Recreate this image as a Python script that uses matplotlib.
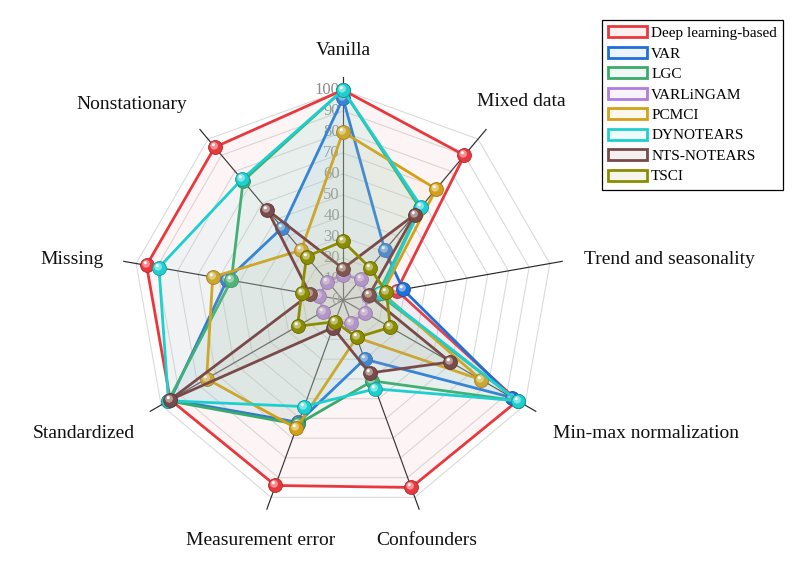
import numpy as np
import matplotlib
matplotlib.use('Agg')
import matplotlib.pyplot as plt
from matplotlib.markers import MarkerStyle
from matplotlib.transforms import Affine2D
from matplotlib.patches import Patch
import matplotlib.colors as mcolors

plt.rcParams['font.family'] = ['Liberation Serif', 'DejaVu Serif']

categories = ['Vanilla', 'Mixed data', 'Trend and seasonality', 'Min-max normalization',
              'Confounders', 'Measurement error', 'Standardized', 'Missing', 'Nonstationary']
methods = ['Deep learning-based', 'VAR', 'LGC', 'VARLiNGAM', 'PCMCI',
           'DYNOTEARS', 'NTS-NOTEARS', 'TSCI']

deep_learning = [100, 90, 26, 96, 95, 94, 95, 95, 95]
var = [96, 31, 29, 93, 30, 62, 95, 56, 45]
lgc = [100, 57, 17, 96, 41, 63, 96, 54, 74]
varlingam = [12, 13, 12, 12, 11.5, 12, 11, 11.5, 11.5]
pcmci = [80, 69, 19, 76, 19, 65, 75, 63, 31]
dynotears = [100, 58, 18, 96, 45, 54, 96, 89, 75]
nts_notears = [15, 53, 12.5, 59, 37, 14, 95, 16, 56]
tsci = [28, 20, 21, 26, 19, 11, 25, 20, 27]

series = [deep_learning, var, lgc, varlingam, pcmci, dynotears, nts_notears, tsci]
colors = ['#e8383d', '#1f6fd9', '#3aaa6a', '#b07ce0', '#d4a017',
          '#1ecfcf', '#7a4a4a', '#8c8c00']
ticks = [0, 10, 20, 30, 40, 50, 60, 70, 80, 90, 100]

px = 2.1  # pixels per unit
fig = plt.figure(figsize=(7.93, 5.63), dpi=100)
ax = fig.add_axes([0, 0, 1, 1])
ax.set_xlim(-343 / px, 450 / px)
ax.set_ylim(-263 / px, 300 / px)
ax.set_aspect('equal')
ax.axis('off')

n = len(categories)
theta = np.deg2rad(90 - 40 * np.arange(n))
ct, st = np.cos(theta), np.sin(theta)

# polygon grid
for t in ticks[1:]:
    xs = np.append(t * ct, t * ct[0])
    ys = np.append(t * st, t * st[0])
    ax.plot(xs, ys, color='#dadada', lw=0.8, zorder=1)
# spokes
for c, s in zip(ct, st):
    ax.plot([0, 106 * c], [0, 106 * s], color='#2a2a2a', lw=0.85, zorder=1.2)

# tick labels
for t in ticks:
    ax.text(-1.5, t, str(t), ha='right', va='center', fontsize=12,
            color='#8a8a8a', zorder=1.5)

# category labels
label_pos = [(0, 119, 'center'), (63.8, 94.5, 'left'), (114.8, 19.5, 'left'),
             (100, -63.8, 'left'), (40, -114.3, 'center'), (-39, -114.3, 'center'),
             (-99, -63.8, 'right'), (-113.8, 19.5, 'right'), (-74.3, 93, 'right')]
for cat, (lx, ly, ha) in zip(categories, label_pos):
    ax.text(lx, ly, cat, ha=ha, va='center', fontsize=14, color='#111111')

hl1 = MarkerStyle('o', transform=Affine2D().scale(0.55).translate(-0.1, 0.12))
hl2 = MarkerStyle('o', transform=Affine2D().scale(0.22).translate(-0.16, 0.2))

for i, (vals, col) in enumerate(zip(series, colors)):
    v = np.asarray(vals, dtype=float)
    xs = v * ct
    ys = v * st
    xc = np.append(xs, xs[0])
    yc = np.append(ys, ys[0])
    z = 3 + i
    rgb = np.array(mcolors.to_rgb(col))
    fillc = tuple(rgb + (1 - rgb) * 0.5)
    ax.fill(xc, yc, color=fillc, alpha=0.1, lw=0, zorder=z)
    ax.plot(xc, yc, color=col, lw=2, zorder=z + 0.3)
    dark = tuple(rgb * 0.75)
    light = tuple(rgb + (1 - rgb) * 0.45)
    ax.plot(xs, ys, ls='none', marker='o', ms=10, mfc=col, mec=dark, mew=0.6,
            zorder=z + 0.5)
    ax.plot(xs, ys, ls='none', marker=hl1, ms=10, mfc=light, mec='none',
            zorder=z + 0.6)
    ax.plot(xs, ys, ls='none', marker=hl2, ms=10, mfc='white', mec='none',
            zorder=z + 0.7)

handles = [Patch(facecolor=mcolors.to_rgba(c, 0.08), edgecolor=c, lw=2) for c in colors]
leg = fig.legend(handles, methods, loc='upper right',
                 bbox_to_anchor=(783 / 793, 1 - 20 / 563), fontsize=11,
                 frameon=True, fancybox=False, framealpha=1, edgecolor='black',
                 handlelength=2.5, handleheight=0.75, handletextpad=0.3,
                 labelspacing=0.43, borderpad=0.4, borderaxespad=0)
leg.get_frame().set_linewidth(0.9)

fig.savefig('out.png', dpi=100)
